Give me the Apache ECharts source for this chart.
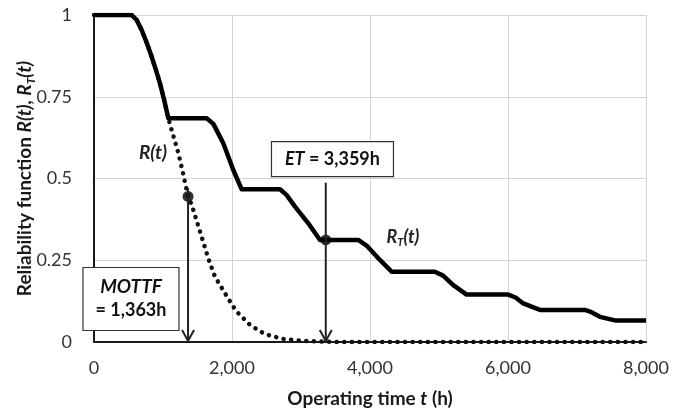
<!DOCTYPE html>
<html><head><meta charset="utf-8">
<script src="https://cdn.jsdelivr.net/npm/echarts@6/dist/echarts.min.js"></script>
<style>html,body{margin:0;padding:0;background:#fff}#c{width:686px;height:412px}</style>
</head><body><div id="c"></div>
<script>
// R_T(t) with maintenance (solid)
var rtT = [0, 545, 618, 691, 764, 836, 896, 956, 1017, 1077, 1633, 1729, 1801, 1874, 2019, 2140, 2695, 2790, 2913, 3106, 3275, 3830, 3950, 4144, 4313, 4941, 5060, 5207, 5400, 6003, 6110, 6221, 6463, 7115, 7210, 7332, 7550, 8000];
var rtV = [1, 1, 0.985, 0.954, 0.915, 0.872, 0.833, 0.791, 0.740, 0.684, 0.684, 0.667, 0.638, 0.608, 0.526, 0.467, 0.467, 0.450, 0.414, 0.363, 0.312, 0.312, 0.295, 0.251, 0.215, 0.215, 0.203, 0.174, 0.145, 0.145, 0.136, 0.118, 0.098, 0.098, 0.091, 0.077, 0.066, 0.066];
// R(t) without maintenance (dotted)
var rT = [0, 545, 618, 691, 764, 836, 896, 956, 1017, 1077, 1126, 1222, 1285, 1363, 1415, 1526, 1656, 1753, 1898, 2058, 2261, 2478, 2743, 3033, 3500, 8000];
var rV = [1, 1, 0.985, 0.954, 0.915, 0.872, 0.833, 0.791, 0.740, 0.684, 0.648, 0.578, 0.521, 0.445, 0.42, 0.345, 0.256, 0.2, 0.149, 0.095, 0.052, 0.024, 0.009, 0.003, 0, 0];
// highlighted points: MOTTF and ET
var markT = [1363, 3359];
var markR = [0.445, 0.312];
var arrowTop = [0.47, 0.487];

function pairs(a, b) { return a.map(function (v, i) { return [v, b[i]]; }); }

var chart = echarts.init(document.getElementById('c'), null, {renderer: 'canvas'});
var FONT = 'Lato';
chart.setOption({
  animation: false,
  grid: {left: 94, right: 40, top: 15, bottom: 70, containLabel: false, outerBoundsMode: 'none'},
  xAxis: {
    type: 'value', min: 0, max: 8000, interval: 2000,
    axisLine: {show: true, lineStyle: {color: '#1a1a1a', width: 2}},
    axisTick: {show: false},
    splitLine: {show: true, lineStyle: {color: '#d4d4d4', width: 1}},
    axisLabel: {margin: 17, fontFamily: FONT, fontSize: 18, color: '#333',
      formatter: function (v) { return v.toLocaleString('en-US'); }},
    name: '{b|Operating time }{i|t}{b| (h)}', nameLocation: 'middle', nameGap: 47, nameMoveOverlap: false,
    nameTextStyle: {rich: {
      b: {fontFamily: FONT, fontWeight: 'bold', fontSize: 19, color: '#1a1a1a'},
      i: {fontFamily: FONT, fontWeight: 'bold', fontStyle: 'italic', fontSize: 19, color: '#1a1a1a'}
    }}
  },
  yAxis: {
    type: 'value', min: 0, max: 1, interval: 0.25,
    axisLine: {show: true, lineStyle: {color: '#1a1a1a', width: 2}},
    axisTick: {show: false},
    splitLine: {show: true, lineStyle: {color: '#d4d4d4', width: 1}},
    axisLabel: {margin: 22, fontFamily: FONT, fontSize: 18, color: '#333'},
    name: '{b|Reliability function }{i|R(t), R}{s|T}{i|(t)}', nameLocation: 'middle', nameGap: 57, nameMoveOverlap: false,
    nameTextStyle: {rich: {
      b: {fontFamily: FONT, fontWeight: 'bold', fontSize: 19, color: '#1a1a1a', lineHeight: 24},
      i: {fontFamily: FONT, fontWeight: 'bold', fontStyle: 'italic', fontSize: 19, color: '#1a1a1a', lineHeight: 24},
      s: {fontFamily: FONT, fontWeight: 'bold', fontStyle: 'italic', fontSize: 12, color: '#1a1a1a', lineHeight: 24, verticalAlign: 'bottom', padding: [7, 0, 0, 0]}
    }}
  },
  series: [
    {type: 'line', data: pairs(rT, rV), showSymbol: false, z: 2,
      lineStyle: {color: '#111', width: 4.5, type: [0.1, 7.5], cap: 'round'}},
    {type: 'line', data: pairs(rtT, rtV), showSymbol: false, z: 3,
      lineStyle: {color: '#000', width: 4.5, join: 'round'}},
    {type: 'scatter', data: pairs(markT, markR), symbol: 'circle', symbolSize: 11, z: 5,
      itemStyle: {color: '#000'}}
  ]
});

function px(t, r) { return chart.convertToPixel({gridIndex: 0}, [t, r]); }
var g = [];
for (var k = 0; k < markT.length; k++) {
  var pTop = px(markT[k], arrowTop[k]), pBot = px(markT[k], 0);
  g.push({type: 'line', shape: {x1: pTop[0], y1: pTop[1], x2: pBot[0], y2: pBot[1] - 1}, style: {stroke: '#222', lineWidth: 2}, z: 10});
  g.push({type: 'polyline', shape: {points: [[pBot[0] - 6, pBot[1] - 12], [pBot[0], pBot[1] - 1], [pBot[0] + 6, pBot[1] - 12]]}, style: {stroke: '#222', lineWidth: 2, fill: null}, z: 10});
}
// MOTTF box
var mc = px(536, 0.133);
g.push({type: 'rect', shape: {x: mc[0] - 48, y: mc[1] - 31, width: 96, height: 63}, style: {fill: '#fff', stroke: '#333', lineWidth: 1.2}, z: 20});
g.push({type: 'text', x: mc[0], y: mc[1] - 12, style: {text: 'MOTTF', font: 'italic bold 19px Lato', fill: '#111', align: 'center', verticalAlign: 'middle'}, z: 21});
g.push({type: 'text', x: mc[0], y: mc[1] + 12, style: {text: '= 1,363h', font: 'bold 18px Lato', fill: '#111', align: 'center', verticalAlign: 'middle'}, z: 21});
// ET box
var ec = px(3456, 0.561);
g.push({type: 'rect', shape: {x: ec[0] - 61, y: ec[1] - 17, width: 122, height: 35}, style: {fill: '#fff', stroke: '#333', lineWidth: 1.2}, z: 20});
g.push({type: 'text', x: ec[0], y: ec[1] + 1, style: {text: '{i|ET}{b| = 3,359h}', rich: {i: {font: 'italic bold 18px Lato', fill: '#111'}, b: {font: 'bold 18px Lato', fill: '#111'}}, align: 'center', verticalAlign: 'middle'}, z: 21});
// series labels
var l1 = px(855, 0.578);
g.push({type: 'text', x: l1[0], y: l1[1], style: {text: 'R(t)', font: 'italic bold 19px Lato', fill: '#222', align: 'center', verticalAlign: 'middle'}, z: 21});
var l2 = px(4478, 0.32);
g.push({type: 'text', x: l2[0], y: l2[1], style: {text: '{i|R}{s|T}{i|(t)}', rich: {i: {font: 'italic bold 18px Lato', fill: '#222', lineHeight: 22}, s: {font: 'italic bold 11px Lato', fill: '#222', lineHeight: 22, verticalAlign: 'bottom', padding: [7, 0, 0, 0]}}, align: 'center', verticalAlign: 'middle'}, z: 21});
chart.setOption({graphic: g});
</script>
</body></html>
